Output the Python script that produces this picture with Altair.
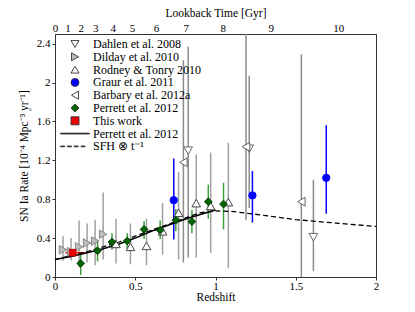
import altair as alt
import pandas as pd

# ---------------- data ----------------
series_names = ["Dahlen et al. 2008", "Dilday et al. 2010", "Rodney & Tonry 2010",
                "Graur et al. 2011", "Barbary et al. 2012a", "Perrett et al. 2012",
                "This work", "Perrett et al. 2012 ", "SFH \u2297 t\u207b\u00b9"]

dahlen_z = [0.83, 1.21, 1.61]
dahlen_r = [1.30, 1.32, 0.41]
dahlen_lo = [0.20, 0.71, 0.06]
dahlen_hi = [2.37, 2.07, 1.00]

dilday_z = [0.05, 0.10, 0.15, 0.20, 0.25, 0.30]
dilday_r = [0.28, 0.26, 0.31, 0.35, 0.37, 0.44]
dilday_lo = [0.17, 0.17, 0.10, 0.15, 0.12, 0.18]
dilday_hi = [0.42, 0.40, 0.58, 0.55, 0.59, 0.87]

rodney_z = [0.38, 0.47, 0.57, 0.67, 0.77, 0.88, 0.97, 1.08]
rodney_r = [0.34, 0.31, 0.32, 0.47, 0.66, 0.76, 0.73, 0.77]
rodney_lo = [0.14, 0.13, 0.12, 0.23, 0.18, 0.20, 0.25, 0.09]
rodney_hi = [0.60, 0.55, 0.60, 0.76, 1.08, 1.26, 1.28, 1.38]

graur_z = [0.74, 1.23, 1.69]
graur_r = [0.79, 0.84, 1.02]
graur_lo = [0.385, 0.56, 0.65]
graur_hi = [1.22, 1.09, 1.56]

barbary_z = [0.80, 1.19, 1.535]
barbary_r = [1.18, 1.34, 0.775]
barbary_lo = [0.15, 0.585, 0.0]
barbary_hi = [2.23, 2.90, 2.29]

perrett_z = [0.16, 0.265, 0.355, 0.45, 0.555, 0.655, 0.753, 0.853, 0.955, 1.05]
perrett_r = [0.14, 0.27, 0.36, 0.37, 0.49, 0.48, 0.585, 0.57, 0.775, 0.75]
perrett_lo = [0.02, 0.16, 0.28, 0.29, 0.39, 0.39, 0.47, 0.45, 0.60, 0.49]
perrett_hi = [0.25, 0.385, 0.45, 0.45, 0.575, 0.58, 0.70, 0.69, 0.95, 0.97]

thiswork_z = [0.11]
thiswork_r = [0.25]
thiswork_lo = [0.22]
thiswork_hi = [0.28]
thiswork_zlo = [0.065]
thiswork_zhi = [0.19]

perrett_curve_z = [0.0, 0.1, 0.2, 0.3, 0.4, 0.5, 0.6, 0.7, 0.8, 0.9, 1.0]
perrett_curve_r = [0.18, 0.21, 0.25, 0.29, 0.34, 0.40, 0.47, 0.53, 0.59, 0.64, 0.69]

sfh_z = [0.0, 0.2, 0.4, 0.6, 0.8, 0.9, 1.0, 1.1, 1.3, 1.5, 1.75, 2.0]
sfh_r = [0.18, 0.26, 0.36, 0.48, 0.60, 0.66, 0.68, 0.675, 0.635, 0.59, 0.555, 0.52]

lookback_gyr = ["0", "1", "2", "3", "4", "5", "6", "7", "8", "9", "10"]
lookback_z = [0, 0.078, 0.16, 0.25, 0.36, 0.48, 0.63, 0.815, 1.045, 1.345, 1.765]

x_ticks = [0, 0.5, 1, 1.5, 2]
y_ticks = [0, 0.4, 0.8, 1.2, 1.6, 2.0, 2.4]

# ---------------- styles ----------------
fill_colors = ["white", "#bdbdbd", "white", "#0000ff", "white", "#006400", "#ee0000", "black", "black"]
edge_colors = {"Dahlen et al. 2008": "#555555", "Dilday et al. 2010": "#808080",
               "Rodney & Tonry 2010": "#333333", "Graur et al. 2011": "#0000ff",
               "Barbary et al. 2012a": "#555555", "Perrett et al. 2012": "#003300",
               "This work": "#b00000"}
bar_colors = {"Dahlen et al. 2008": "#8c8c8c", "Dilday et al. 2010": "#a0a0a0",
              "Rodney & Tonry 2010": "#a0a0a0", "Graur et al. 2011": "#0000ff",
              "Barbary et al. 2012a": "#8c8c8c", "Perrett et al. 2012": "#3f9f3f",
              "This work": "#ee0000"}
sizes = {"Dahlen et al. 2008": 75, "Dilday et al. 2010": 75, "Rodney & Tonry 2010": 75,
         "Graur et al. 2011": 55, "Barbary et al. 2012a": 75, "Perrett et al. 2012": 60,
         "This work": 45}
solid_path = "M-3.6,-0.1H3.6V0.1H-3.6Z"
dash_path = ("M-3.6,-0.1H-2.6V0.1H-3.6Z M-1.9,-0.1H-0.9V0.1H-1.9Z "
             "M-0.2,-0.1H0.8V0.1H-0.2Z M1.5,-0.1H2.5V0.1H1.5Z")
shapes = ["triangle-down", "triangle-right", "triangle-up", "circle", "triangle-left",
          "diamond", "square", solid_path, dash_path]

rows = []
for name, zs, rs, los, his in [
    ("Dahlen et al. 2008", dahlen_z, dahlen_r, dahlen_lo, dahlen_hi),
    ("Dilday et al. 2010", dilday_z, dilday_r, dilday_lo, dilday_hi),
    ("Rodney & Tonry 2010", rodney_z, rodney_r, rodney_lo, rodney_hi),
    ("Graur et al. 2011", graur_z, graur_r, graur_lo, graur_hi),
    ("Barbary et al. 2012a", barbary_z, barbary_r, barbary_lo, barbary_hi),
    ("Perrett et al. 2012", perrett_z, perrett_r, perrett_lo, perrett_hi),
    ("This work", thiswork_z, thiswork_r, thiswork_lo, thiswork_hi),
]:
    for z, r, lo, hi in zip(zs, rs, los, his):
        rows.append({"series": name, "z": z, "r": r, "lo": lo, "hi": hi,
                     "edge": edge_colors[name], "bar": bar_colors[name], "sz": sizes[name]})
df = pd.DataFrame(rows)
order = {n: i for i, n in enumerate(series_names)}
df["ord"] = df["series"].map(order)

tw = pd.DataFrame({"z": thiswork_z, "r": thiswork_r, "zlo": thiswork_zlo, "zhi": thiswork_zhi})
curve = pd.DataFrame({"z": perrett_curve_z, "r": perrett_curve_r})
sfh = pd.DataFrame({"z": sfh_z, "r": sfh_r})
top_df = pd.DataFrame({"z": lookback_z})

FONT = "Liberation Serif"
xscale = alt.Scale(domain=[0, 2], nice=False, zero=False)
yscale = alt.Scale(domain=[0, 2.5], nice=False)

axis_font = dict(labelFont=FONT, titleFont=FONT, labelFontSize=11, titleFontSize=11.5,
                 labelColor="black", titleColor="black", titleFontWeight="normal")

x_axis = alt.Axis(values=x_ticks, format="~g", title="Redshift", grid=False,
                  tickSize=3, labelPadding=0, titleY=14, titlePadding=0, **axis_font)
y_axis = alt.Axis(values=y_ticks, format="~g", title="SN Ia Rate [10\u207b\u2074 Mpc\u207b\u00b3 yr\u207b\u00b9]",
                  grid=False, tickSize=3, labelPadding=2, titleX=-31, titleBaseline="middle",
                  **axis_font)

bars = alt.Chart(df).mark_rule(strokeWidth=1.5, clip=True).encode(
    x=alt.X("z:Q", scale=xscale, axis=x_axis),
    y=alt.Y("lo:Q", scale=yscale, axis=y_axis),
    y2="hi:Q",
    color=alt.Color("bar:N", scale=None),
)

tw_bar = alt.Chart(tw).mark_rule(strokeWidth=1.5, color="#ee0000").encode(
    x="zlo:Q", x2="zhi:Q", y="r:Q")

line_perrett = alt.Chart(curve).mark_line(color="black", strokeWidth=1.6).encode(
    x="z:Q", y="r:Q")
line_sfh = alt.Chart(sfh).mark_line(color="black", strokeWidth=1.3, strokeDash=[5, 3]).encode(
    x="z:Q", y="r:Q")

points = alt.Chart(df).mark_point(filled=True, opacity=1, strokeWidth=0.9).encode(
    x="z:Q", y="r:Q",
    color=alt.Color("series:N", scale=alt.Scale(domain=series_names, range=fill_colors),
                    legend=alt.Legend(title=None, orient="none", legendX=14, legendY=4,
                                      labelFont=FONT, labelFontSize=12, labelColor="black",
                                      symbolSize=64, symbolStrokeWidth=0.9,
                                      symbolStrokeColor="#333333", labelOffset=12,
                                      rowPadding=0.8, padding=0, labelLimit=300)),
    shape=alt.Shape("series:N", scale=alt.Scale(domain=series_names, range=shapes)),
    stroke=alt.Stroke("edge:N", scale=None),
    size=alt.Size("sz:Q", scale=None),
    order=alt.Order("ord:Q"),
)

main = alt.layer(bars, tw_bar, line_sfh, line_perrett, points)

top = alt.Chart(top_df).mark_point(opacity=0).encode(
    x=alt.X("z:Q", scale=alt.Scale(domain=[0, 2], nice=False, zero=False),
            axis=alt.Axis(orient="top", values=lookback_z, title="Lookback Time [Gyr]",
                          ticks=False, labelPadding=1, grid=False, titlePadding=4,
                          labelExpr="%s[indexof(%s, datum.value)]" % (
                              str(lookback_gyr), str(lookback_z)),
                          **axis_font))
)

chart = alt.layer(main, top).resolve_scale(x="independent").properties(
    width=321, height=243,
    autosize=alt.AutoSizeParams(type="none"),
    padding={"left": 47, "top": 26, "right": 31, "bottom": 27},
).configure(font=FONT).configure_view(stroke="#333333", strokeWidth=1).configure_axis(
    domainColor="#333333", tickColor="#333333", labelFlush=False
)

chart.save("out.html", embed_options={"renderer": "svg", "actions": False})
